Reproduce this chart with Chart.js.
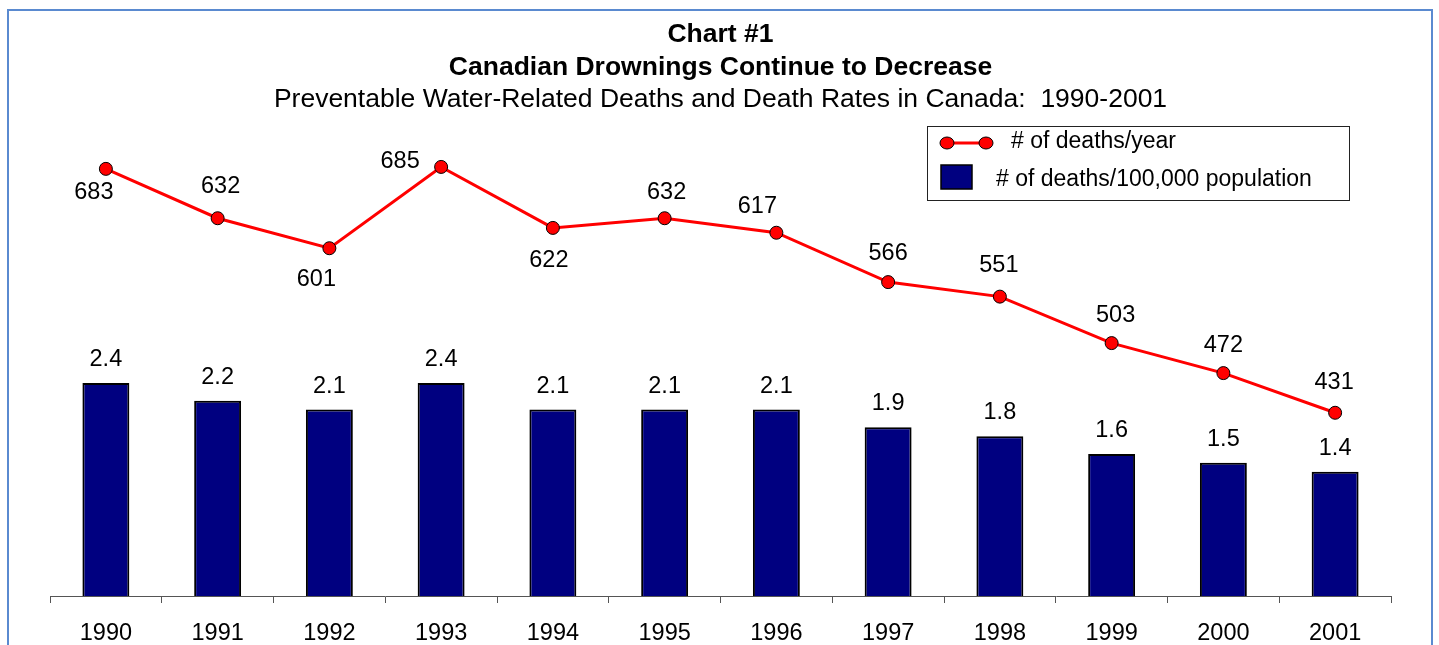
<!DOCTYPE html>
<html>
<head>
<meta charset="utf-8">
<script src="https://cdn.jsdelivr.net/npm/chart.js@4/dist/chart.umd.min.js"></script>
<style>
  html, body { margin: 0; padding: 0; background: #fff; overflow: hidden; }
  #wrap { position: absolute; left: 0; top: 0; width: 1439px; height: 645px; overflow: hidden; }
  #chart { position: absolute; left: 0; top: 0; }
  #frame { position: absolute; left: 7px; top: 9px; width: 1426px; height: 660px; border: 2px solid #5a8ad0; box-sizing: border-box; pointer-events: none; }
</style>
</head>
<body>
<div id="wrap">
  <canvas id="chart" width="1439" height="670"></canvas>
  <div id="frame"></div>
</div>
<script>
  // ------------- Dados -------------
  const years          = ['1990','1991','1992','1993','1994','1995','1996','1997','1998','1999','2000','2001'];
  const deathsPerYear  = [683, 632, 601, 685, 622, 632, 617, 566, 551, 503, 472, 431];
  const deathsPer100k  = [2.4, 2.2, 2.1, 2.4, 2.1, 2.1, 2.1, 1.9, 1.8, 1.6, 1.5, 1.4];

  const lineLabel = '# of deaths/year';
  const barLabel  = '# of deaths/100,000 population';

  // posição dos rótulos da linha em relação ao marcador (dx, dy)
  const lineLabelOffsets = [[-12,24],[3,-32],[-13,31],[-41,-5],[-4,33],[2,-26],[-19,-26],[0,-29],[-1,-31],[4,-28],[0,-28],[-1,-30]];

  const FONT = "'Liberation Sans', Arial, sans-serif";
  const NAVY = '#000080';
  const RED  = '#ff0000';

  // ------------- Plugins -------------
  const valueLabels = {
    id: 'valueLabels',
    afterDatasetsDraw(chart) {
      const ctx = chart.ctx;
      ctx.save();
      ctx.font = `23.5px ${FONT}`;
      ctx.fillStyle = '#000';
      ctx.textAlign = 'center';
      ctx.textBaseline = 'middle';
      // barras
      chart.getDatasetMeta(1).data.forEach((el, i) => {
        ctx.fillText(deathsPer100k[i].toFixed(1), el.x, el.y - 23.5);
      });
      // linha
      chart.getDatasetMeta(0).data.forEach((el, i) => {
        const [dx, dy] = lineLabelOffsets[i];
        ctx.fillText(String(deathsPerYear[i]), el.x + dx, el.y + dy);
      });
      ctx.restore();
    }
  };

  const boxLegend = {
    id: 'boxLegend',
    afterDraw(chart) {
      const ctx = chart.ctx;
      ctx.save();
      ctx.fillStyle = '#fff';
      ctx.fillRect(927, 126, 422, 75);
      ctx.strokeStyle = '#222';
      ctx.lineWidth = 1;
      ctx.strokeRect(927.5, 126.5, 422, 74);
      // amostra da linha
      ctx.strokeStyle = RED;
      ctx.lineWidth = 3;
      ctx.beginPath(); ctx.moveTo(947, 143); ctx.lineTo(986, 143); ctx.stroke();
      [947, 986].forEach(x => {
        ctx.beginPath();
        ctx.ellipse(x, 143, 7, 6, 0, 0, Math.PI * 2);
        ctx.fillStyle = RED; ctx.fill();
        ctx.lineWidth = 1; ctx.strokeStyle = '#000'; ctx.stroke();
      });
      // amostra da barra
      ctx.fillStyle = NAVY;
      ctx.fillRect(941, 165, 31, 24);
      ctx.strokeStyle = '#000'; ctx.lineWidth = 1.5;
      ctx.strokeRect(941, 165, 31, 24);
      // textos
      ctx.fillStyle = '#000';
      ctx.font = `23px ${FONT}`;
      ctx.textAlign = 'left';
      ctx.textBaseline = 'middle';
      ctx.fillText(lineLabel, 1011, 142);
      ctx.fillText(barLabel, 996, 180);
      ctx.restore();
    }
  };

  // ------------- Gráfico -------------
  new Chart(document.getElementById('chart').getContext('2d'), {
    data: {
      labels: years,
      datasets: [
        {
          type: 'line',
          label: lineLabel,
          data: deathsPerYear,
          yAxisID: 'yLine',
          borderColor: RED,
          borderWidth: 3,
          pointRadius: 6.5,
          pointBackgroundColor: RED,
          pointBorderColor: '#000',
          pointBorderWidth: 1,
          tension: 0,
          order: 0
        },
        {
          type: 'bar',
          label: barLabel,
          data: deathsPer100k,
          yAxisID: 'yBar',
          backgroundColor: NAVY,
          borderColor: '#000',
          borderWidth: 2,
          barPercentage: 1,
          categoryPercentage: 0.42,
          order: 1
        }
      ]
    },
    options: {
      animation: false,
      responsive: false,
      layout: { padding: { left: 50, right: 48, top: 0, bottom: 6.8 } },
      plugins: {
        legend: { display: false },
        tooltip: { enabled: false },
        title: {
          display: true,
          text: ['Chart #1', 'Canadian Drownings Continue to Decrease'],
          color: '#000',
          font: { family: FONT, size: 26.5, weight: 'bold', lineHeight: 1.245 },
          padding: { top: 18, bottom: 0 }
        },
        subtitle: {
          display: true,
          text: 'Preventable Water-Related Deaths and Death Rates in Canada:  1990-2001',
          color: '#000',
          font: { family: FONT, size: 26.5, lineHeight: 1.2 },
          padding: { top: 0, bottom: 4.2 }
        }
      },
      scales: {
        x: {
          grid: { display: true, drawOnChartArea: false, drawTicks: true, tickLength: 7, color: '#555', offset: true },
          border: { display: true, color: '#555', width: 1 },
          ticks: { color: '#000', font: { family: FONT, size: 23.5 }, padding: 16, maxRotation: 0, autoSkip: false }
        },
        yBar:  { display: false, min: 0, max: 5.363 },
        yLine: { display: false, min: 241.7, max: 733.5 }
      }
    },
    plugins: [valueLabels, boxLegend]
  });
</script>
</body>
</html>
